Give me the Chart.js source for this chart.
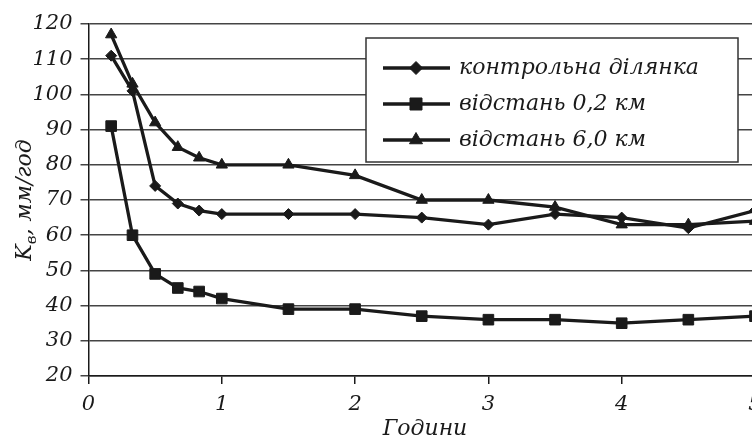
<!DOCTYPE html>
<html>
<head>
<meta charset="utf-8">
<script src="https://cdn.jsdelivr.net/npm/chart.js@4.4.1/dist/chart.umd.min.js"></script>
<style>
  html, body { margin: 0; padding: 0; background: #fff; }
  #wrap { width: 752px; height: 437px; overflow: hidden; position: relative; }
</style>
</head>
<body>
<div id="wrap"><canvas id="chart" width="800" height="437"></canvas></div>
<script>
// Data
const hours = [0.17, 0.33, 0.5, 0.67, 0.83, 1, 1.5, 2, 2.5, 3, 3.5, 4, 4.5, 5];
const control = [111, 101, 74, 69, 67, 66, 66, 66, 65, 63, 66, 65, 62, 67];
const dist02 = [91, 60, 49, 45, 44, 42, 39, 39, 37, 36, 36, 35, 36, 37];
const dist60 = [117, 103, 92, 85, 82, 80, 80, 77, 70, 70, 68, 63, 63, 64];
const seriesNames = ['контрольна ділянка', 'відстань 0,2 км', 'відстань 6,0 км'];
const xTitle = 'Години';
const yTitleMain = 'K';
const yTitleSub = 'в';
const yTitleRest = ', мм/год';

const FONT = '"DejaVu Serif", serif';
const INK = '#1a1a1a';

function toPoints(ys) {
    return hours.map((h, i) => ({ x: h, y: ys[i] }));
}

function makeSet(label, ys, style, radius) {
    return {
        label: label,
        data: toPoints(ys),
        borderColor: INK,
        backgroundColor: INK,
        borderWidth: 3.3,
        pointStyle: style,
        pointRadius: radius,
        pointBorderWidth: 1,
        pointBackgroundColor: INK,
        pointBorderColor: INK,
        tension: 0
    };
}

// titles and the boxed legend are drawn by hand
const decorPlugin = {
    id: 'decor',
    afterDraw(chart) {
        const ctx = chart.ctx;
        ctx.save();
        ctx.fillStyle = INK;

        // x title
        ctx.font = 'italic 22px ' + FONT;
        ctx.textAlign = 'center';
        ctx.textBaseline = 'alphabetic';
        ctx.fillText(xTitle, 425, 435);

        // y title with subscript
        ctx.save();
        ctx.translate(31, 200);
        ctx.rotate(-Math.PI / 2);
        ctx.textAlign = 'left';
        ctx.font = 'italic 22px ' + FONT;
        const wK = ctx.measureText(yTitleMain).width;
        const wRest = ctx.measureText(yTitleRest).width;
        ctx.font = 'italic 15px ' + FONT;
        const wSub = ctx.measureText(yTitleSub).width;
        let x0 = -(wK + wSub + wRest) / 2;
        ctx.font = 'italic 22px ' + FONT;
        ctx.fillText(yTitleMain, x0, 0);
        ctx.font = 'italic 15px ' + FONT;
        ctx.fillText(yTitleSub, x0 + wK, 5);
        ctx.font = 'italic 22px ' + FONT;
        ctx.fillText(yTitleRest, x0 + wK + wSub, 0);
        ctx.restore();

        // legend box
        const bx = 366, by = 38, bw = 372, bh = 124;
        ctx.fillStyle = '#fff';
        ctx.fillRect(bx, by, bw, bh);
        ctx.strokeStyle = '#333';
        ctx.lineWidth = 1.5;
        ctx.strokeRect(bx, by, bw, bh);

        const rows = [68, 104, 140];
        chart.data.datasets.forEach((ds, i) => {
            const y = rows[i];
            ctx.strokeStyle = INK;
            ctx.lineWidth = 3.3;
            ctx.beginPath();
            ctx.moveTo(383, y);
            ctx.lineTo(450, y);
            ctx.stroke();
            ctx.fillStyle = INK;
            ctx.strokeStyle = INK;
            ctx.lineWidth = 1;
            Chart.helpers.drawPoint(ctx, {
                pointStyle: ds.pointStyle,
                radius: ds.pointRadius + 1,
                rotation: 0,
                borderWidth: 1
            }, 416, y);
            ctx.fillStyle = INK;
            ctx.font = 'italic 22px ' + FONT;
            ctx.textAlign = 'left';
            ctx.textBaseline = 'middle';
            ctx.fillText(ds.label, 459, y);
        });
        ctx.restore();
    }
};

const ctx = document.getElementById('chart').getContext('2d');
new Chart(ctx, {
    type: 'line',
    data: {
        datasets: [
            makeSet(seriesNames[0], control, 'rectRot', 5.5),
            makeSet(seriesNames[1], dist02, 'rect', 7.5),
            makeSet(seriesNames[2], dist60, 'triangle', 6.5)
        ]
    },
    options: {
        responsive: false,
        animation: false,
        layout: {
            padding: { left: 0, top: 24, right: 45, bottom: 0 }
        },
        plugins: {
            legend: { display: false },
            tooltip: { enabled: false }
        },
        scales: {
            x: {
                type: 'linear',
                min: 0,
                max: 5,
                afterFit(scale) { scale.height = 61; },
                ticks: {
                    stepSize: 1,
                    color: INK,
                    padding: 8,
                    maxRotation: 0,
                    font: { family: FONT, size: 21, style: 'italic' }
                },
                grid: {
                    drawOnChartArea: false,
                    drawTicks: true,
                    tickLength: 8,
                    color: INK,
                    lineWidth: 1.5
                },
                border: { display: true, color: INK, width: 1.5 }
            },
            y: {
                min: 20,
                max: 120,
                afterFit(scale) { scale.width = 88.5; },
                ticks: {
                    stepSize: 10,
                    color: INK,
                    padding: 8,
                    font: { family: FONT, size: 21, style: 'italic' }
                },
                grid: {
                    drawTicks: true,
                    tickLength: 8,
                    color: '#444',
                    lineWidth: 1.5
                },
                border: { display: true, color: INK, width: 1.5 }
            }
        }
    },
    plugins: [decorPlugin]
});
</script>
</body>
</html>
